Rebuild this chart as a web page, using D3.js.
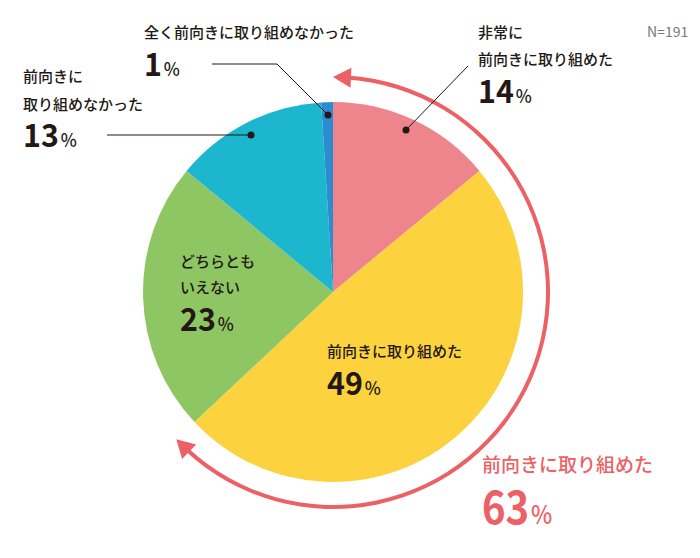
<!DOCTYPE html>
<html><head><meta charset="utf-8">
<script src="https://cdn.jsdelivr.net/npm/d3@7"></script>
<style>
html,body{margin:0;padding:0;background:#fff;}
text{font-family:"Noto Sans CJK JP","Noto Sans",sans-serif;}
</style></head>
<body><svg id="chart" width="700" height="558"></svg>
<script>
const categories = ["非常に前向きに取り組めた","前向きに取り組めた","どちらともいえない","前向きに取り組めなかった","全く前向きに取り組めなかった"];
const values = [14, 49, 23, 13, 1];
const colors = ["#ee848c","#fdd23f","#8ec663","#1cb7cf","#2b8dd0"];
const totalLabel = "前向きに取り組めた";
const totalValue = 63;
const sampleLabel = "N=191";

const svg = d3.select("#chart");
const cx = 333, cy = 292, R = 190;
const ink = "#231815";
const red = "#eb6165";

const g = svg.append("g").attr("transform", `translate(${cx},${cy})`);
const pie = d3.pie().sort(null).value(d => d)(values);
const arc = d3.arc().innerRadius(0).outerRadius(R);
g.selectAll("path.slice").data(pie).join("path")
  .attr("class","slice").attr("d", arc).attr("fill", (d,i) => colors[i]);

// Cumulative arrow arc
const angScale = d3.scaleLinear().domain([0,100]).range([0, 2*Math.PI]);
const rA = 215, head = 18, hw = 10;
const a0 = 0, a1 = angScale(totalValue);
const da = head / rA;
g.append("path")
  .attr("d", d3.arc().innerRadius(rA-2).outerRadius(rA+2).startAngle(a0+da*0.8).endAngle(a1-da*0.8)())
  .attr("fill", red);
function polar(r,a){ return [r*Math.sin(a), -r*Math.cos(a)]; }
function arrowHead(tipA, baseA){
  const P = polar(rA, tipA), B = polar(rA, baseA);
  const dx = P[0]-B[0], dy = P[1]-B[1], L = Math.hypot(dx,dy);
  const nx = -dy/L*hw, ny = dx/L*hw;
  return `M${P[0]},${P[1]}L${B[0]+nx},${B[1]+ny}L${B[0]-nx},${B[1]-ny}Z`;
}
g.append("path").attr("d", arrowHead(a0, a0+da)).attr("fill", red);
g.append("path").attr("d", arrowHead(a1, a1-da)).attr("fill", red);

// leader lines & dots
const lines = [
  {pts:[[468,66],[406,130]], dot:[406,130]},
  {pts:[[212,64],[277,64],[328,115]], dot:[328,115]},
  {pts:[[107,135],[251,135]], dot:[251,135]}
];
lines.forEach(l => {
  svg.append("path").attr("d", d3.line()(l.pts)).attr("fill","none").attr("stroke", ink).attr("stroke-width",1);
  svg.append("circle").attr("cx", l.dot[0]).attr("cy", l.dot[1]).attr("r", 3.5).attr("fill", ink);
});

function label(x, y, lines, lh, val, numY, opts={}){
  const col = opts.color || ink, fs = opts.fs || 15, nfs = opts.nfs || 32, pfs = opts.pfs || 18, sx = opts.sx || 0.95;
  lines.forEach((t,i) => svg.append("text").attr("x", x).attr("y", y + i*lh)
    .attr("font-size", fs).attr("fill", col).attr("font-weight", 500).text(t));
  const t = svg.append("text").attr("transform", `translate(${x},${numY}) scale(${sx},1)`)
    .attr("fill", col).attr("font-weight", "bold");
  t.append("tspan").attr("font-size", nfs).text(val);
  t.append("tspan").attr("font-size", pfs).attr("font-weight", 500).attr("dx", 2).text("%");
}

label(478, 38, ["非常に","前向きに取り組めた"], 27, values[0], 103);
label(327, 357, ["前向きに取り組めた"], 0, values[1], 395);
label(180, 267, ["どちらとも","いえない"], 26, values[2], 331);
label(23, 82, ["前向きに","取り組めなかった"], 28, values[3], 147);
label(144, 38, ["全く前向きに取り組めなかった"], 0, values[4], 76);
label(482, 472, [totalLabel], 0, totalValue, 524, {color: red, fs: 19, nfs: 46, pfs: 26, sx: 0.87});

svg.append("text").attr("x", 647).attr("y", 37).attr("font-size", 14).attr("fill", "#7a7a7a").text(sampleLabel);
</script></body></html>
